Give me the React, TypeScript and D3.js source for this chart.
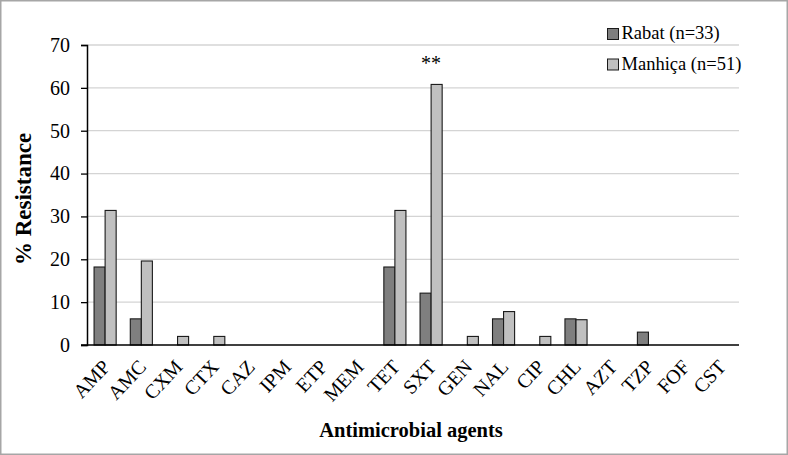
import { useEffect, useRef } from "react";
import * as d3 from "d3";

const WIDTH = 788;
const HEIGHT = 455;

const agents = [
  "AMP", "AMC", "CXM", "CTX", "CAZ", "IPM", "ETP", "MEM", "TET",
  "SXT", "GEN", "NAL", "CIP", "CHL", "AZT", "TZP", "FOF", "CST",
];
const rabat = [18.2, 6.1, 0, 0, 0, 0, 0, 0, 18.2, 12.1, 0, 6.1, 0, 6.1, 0, 3.0, 0, 0];
const manhica = [31.4, 19.6, 2.0, 2.0, 0, 0, 0, 0, 31.4, 60.8, 2.0, 7.8, 2.0, 5.9, 0, 0, 0, 0];
const seriesNames = ["Rabat (n=33)", "Manhiça (n=51)"];
const seriesColors = ["#7f7f7f", "#c0c0c0"];
const yTicks = [0, 10, 20, 30, 40, 50, 60, 70];
const significance = [{ agent: "SXT", label: "**" }];

const FONT = "'Liberation Serif', 'Times New Roman', serif";

export default function App() {
  const svgRef = useRef<SVGSVGElement>(null);

  useEffect(() => {
    const svgEl = svgRef.current;
    if (!svgEl) return;
    const svg = d3.select(svgEl);
    svg.selectAll("*").remove();

    const margin = { left: 87, right: 49, top: 45, bottom: 110 };
    const x = d3
      .scaleBand<string>()
      .domain(agents)
      .range([margin.left, WIDTH - margin.right])
      .paddingInner(0.39)
      .paddingOuter(0.195);
    const y = d3.scaleLinear().domain([0, 70]).range([HEIGHT - margin.bottom, margin.top]);
    const inner = d3.scaleBand<number>().domain([0, 1]).range([0, x.bandwidth()]);

    // outer frame
    svg
      .append("rect")
      .attr("x", 0.75)
      .attr("y", 0.75)
      .attr("width", WIDTH - 1.5)
      .attr("height", HEIGHT - 1.5)
      .attr("fill", "#fff")
      .attr("stroke", "#a6a6a6")
      .attr("stroke-width", 1.5);

    // gridlines
    svg
      .append("g")
      .selectAll("line")
      .data(yTicks.filter((t) => t > 0))
      .join("line")
      .attr("x1", margin.left)
      .attr("x2", WIDTH - margin.right)
      .attr("y1", (d) => y(d))
      .attr("y2", (d) => y(d))
      .attr("stroke", "#d4d4d4")
      .attr("stroke-width", 1.3);

    // bars
    const series = [rabat, manhica];
    series.forEach((values, si) => {
      svg
        .append("g")
        .selectAll("rect")
        .data(agents.map((a, i) => ({ agent: a, value: values[i] })).filter((d) => d.value > 0))
        .join("rect")
        .attr("x", (d) => (x(d.agent) ?? 0) + (inner(si) ?? 0))
        .attr("y", (d) => y(d.value))
        .attr("width", inner.bandwidth())
        .attr("height", (d) => y(0) - y(d.value))
        .attr("fill", seriesColors[si])
        .attr("stroke", "#1a1a1a")
        .attr("stroke-width", 1.1);
    });

    // y axis
    const yAxis = d3.axisLeft(y).tickValues(yTicks).tickSize(6).tickPadding(11);
    const gy = svg
      .append("g")
      .attr("transform", `translate(${margin.left},0)`)
      .call(yAxis);
    gy.select(".domain").attr("stroke", "#000").attr("stroke-width", 1.5);
    gy.selectAll(".tick line").attr("stroke", "#000").attr("stroke-width", 1.3);
    gy.selectAll(".tick text")
      .attr("font-family", FONT)
      .attr("font-size", 20)
      .attr("fill", "#000");

    // x axis baseline
    svg
      .append("line")
      .attr("x1", margin.left - 6)
      .attr("x2", WIDTH - margin.right)
      .attr("y1", y(0))
      .attr("y2", y(0))
      .attr("stroke", "#000")
      .attr("stroke-width", 1.5);

    // x labels rotated
    svg
      .append("g")
      .selectAll("text")
      .data(agents)
      .join("text")
      .attr("transform", (d) => {
        const cx = (x(d) ?? 0) + x.bandwidth() / 2 + 1;
        return `translate(${cx},${y(0) + 18}) rotate(-47)`;
      })
      .attr("text-anchor", "end")
      .attr("dy", "0.35em")
      .attr("font-family", FONT)
      .attr("font-size", 20)
      .text((d) => d);

    // significance marks
    svg
      .append("g")
      .selectAll("text")
      .data(significance)
      .join("text")
      .attr("x", (d) => (x(d.agent) ?? 0) + x.bandwidth() / 2)
      .attr("y", (d) => y(manhica[agents.indexOf(d.agent)]) - 14)
      .attr("text-anchor", "middle")
      .attr("font-family", FONT)
      .attr("font-size", 20)
      .text((d) => d.label);

    // axis titles
    svg
      .append("text")
      .attr("transform", `translate(31,${(y(0) + y(70)) / 2 + 4}) rotate(-90)`)
      .attr("text-anchor", "middle")
      .attr("font-family", FONT)
      .attr("font-weight", "bold")
      .attr("font-size", 23)
      .text("% Resistance");

    svg
      .append("text")
      .attr("x", 411)
      .attr("y", 437)
      .attr("text-anchor", "middle")
      .attr("font-family", FONT)
      .attr("font-weight", "bold")
      .attr("font-size", 20.5)
      .text("Antimicrobial agents");

    // legend
    const legend = svg
      .append("g")
      .selectAll("g")
      .data(seriesNames)
      .join("g")
      .attr("transform", (_, i) => `translate(607.5,${28.5 + i * 30.5})`);
    legend
      .append("rect")
      .attr("width", 11)
      .attr("height", 11)
      .attr("fill", (_, i) => seriesColors[i])
      .attr("stroke", "#1a1a1a")
      .attr("stroke-width", 1);
    legend
      .append("text")
      .attr("x", 14)
      .attr("y", 10.5)
      .attr("font-family", FONT)
      .attr("font-size", 18.5)
      .text((d) => d);
  }, []);

  return (
    <div style={{ position: "fixed", left: 0, top: 0 }}>
      <svg ref={svgRef} width={WIDTH} height={HEIGHT} />
    </div>
  );
}
